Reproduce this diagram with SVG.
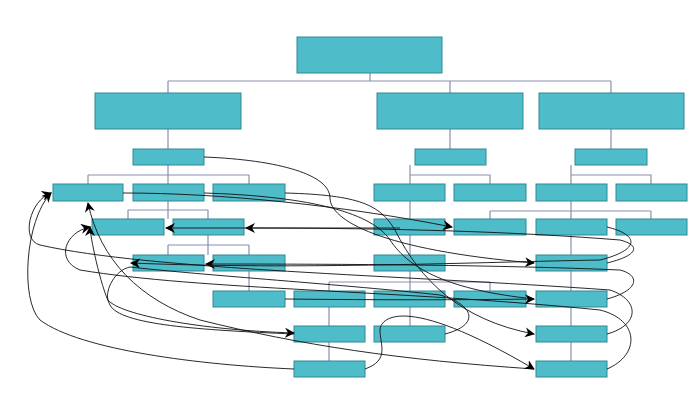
<svg xmlns="http://www.w3.org/2000/svg" width="698" height="412" viewBox="0 0 698 412">
<defs>
<style>
.n{fill:#4fbcc9;stroke:#2e8a94;stroke-width:1}
.t{fill:none;stroke:#8890b0;stroke-width:1.2}
.c{fill:none;stroke:#111;stroke-width:0.9}
</style>
<marker id="a" viewBox="0 0 10 10" refX="9" refY="5" markerWidth="10" markerHeight="10" markerUnits="userSpaceOnUse" orient="auto"><path d="M0,0 L10,5 L0,10 L3,5 z" fill="#000"/></marker>
</defs>
<rect width="698" height="412" fill="#fff"/>
<g id="tree">
<path class="t" d="M370,73V81M168,81H611M168,81V93M450,81V93M611,81V93M168,129V149M450,129V149M611,129V149M168,165V184M88,175H249M88,175V184M249,175V184M168,201V219M128,210H208M128,210V219M208,210V219M208,235V255M168,245H249M168,245V255M249,245V255M249,271V291M329,282H490M329,282V361M490,282V291M410,165V342M410,175H490V184M571,165V361M571,175H651V184M490,211H651M490,211V219M651,211V219"/>
</g>
<g id="nodes">
<rect id="n0" class="n" x="297" y="37" width="145" height="36"/>
<rect id="n1" class="n" x="95" y="93" width="146" height="36"/>
<rect id="n2" class="n" x="377" y="93" width="146" height="36"/>
<rect id="n3" class="n" x="539" y="93" width="145" height="36"/>
<rect id="n4" class="n" x="133" y="149" width="71" height="16"/>
<rect id="n5" class="n" x="415" y="149" width="71" height="16"/>
<rect id="n6" class="n" x="575" y="149" width="72" height="16"/>
<rect id="n7" class="n" x="53" y="184" width="70" height="17"/>
<rect id="n8" class="n" x="133" y="184" width="71" height="17"/>
<rect id="n9" class="n" x="213" y="184" width="72" height="17"/>
<rect id="n10" class="n" x="374" y="184" width="71" height="17"/>
<rect id="n11" class="n" x="454" y="184" width="72" height="17"/>
<rect id="n12" class="n" x="536" y="184" width="71" height="17"/>
<rect id="n13" class="n" x="616" y="184" width="71" height="17"/>
<rect id="n14" class="n" x="92" y="219" width="72" height="16"/>
<rect id="n15" class="n" x="173" y="219" width="71" height="16"/>
<rect id="n16" class="n" x="374" y="219" width="71" height="16"/>
<rect id="n17" class="n" x="454" y="219" width="72" height="16"/>
<rect id="n18" class="n" x="536" y="219" width="71" height="16"/>
<rect id="n19" class="n" x="616" y="219" width="71" height="16"/>
<rect id="n20" class="n" x="133" y="255" width="71" height="16"/>
<rect id="n21" class="n" x="213" y="255" width="72" height="16"/>
<rect id="n22" class="n" x="374" y="255" width="71" height="16"/>
<rect id="n23" class="n" x="536" y="255" width="71" height="16"/>
<rect id="n24" class="n" x="213" y="291" width="72" height="16"/>
<rect id="n25" class="n" x="294" y="291" width="71" height="16"/>
<rect id="n26" class="n" x="374" y="291" width="71" height="16"/>
<rect id="n27" class="n" x="454" y="291" width="72" height="16"/>
<rect id="n28" class="n" x="536" y="291" width="71" height="16"/>
<rect id="n29" class="n" x="294" y="326" width="71" height="16"/>
<rect id="n30" class="n" x="374" y="326" width="71" height="16"/>
<rect id="n31" class="n" x="536" y="326" width="71" height="16"/>
<rect id="n32" class="n" x="294" y="361" width="71" height="16"/>
<rect id="n33" class="n" x="536" y="361" width="71" height="16"/>
</g>
<g id="connectors">
<path class="c" marker-end="url(#a)" d="M123,193C220,193 340,205 452,227"/>
<path class="c" marker-end="url(#a)" d="M204,157C280,160 330,175 330,198C330,220 380,250 534,263"/>
<path class="c" marker-end="url(#a)" d="M285,193C360,195 380,205 395,230C420,280 460,320 534,334"/>
<path class="c" marker-end="url(#a)" d="M607,263C640,255 640,245 620,240C520,232 400,228 246,228"/>
<path class="c" marker-end="url(#a)" d="M400,228C300,228 220,228 166,228"/>
<path class="c" marker-end="url(#a)" d="M607,299C640,290 640,275 620,270C500,265 350,264 206,264"/>
<path class="c" marker-end="url(#a)" d="M607,334C640,325 640,300 610,290C400,275 150,270 40,245C20,240 30,200 51,193"/>
<path class="c" marker-end="url(#a)" d="M294,369C200,365 80,350 40,320C20,300 25,220 51,193"/>
<path class="c" marker-end="url(#a)" d="M607,369C640,355 640,320 600,310C400,290 200,290 80,270C55,260 65,232 90,227"/>
<path class="c" marker-end="url(#a)" d="M294,334C200,330 120,325 110,305C100,285 90,235 90,227"/>
<path class="c" marker-end="url(#a)" d="M445,334C480,325 475,305 440,295C350,285 200,275 130,267C115,270 105,290 108,300C120,315 200,330 294,333"/>
<path class="c" marker-end="url(#a)" d="M534,369C400,360 300,345 200,320C140,300 100,260 88,203"/>
<path class="c" marker-end="url(#a)" d="M607,227C640,235 640,250 600,260C480,262 300,270 131,263"/>
<path class="c" d="M204,193C300,196 370,210 390,240C410,270 450,290 534,299"/>
<path class="c" marker-end="url(#a)" d="M285,299C380,300 460,300 534,299"/>
<path class="c" marker-end="url(#a)" d="M365,369C390,360 380,345 380,330C380,320 400,290 534,369"/>
</g>
</svg>
